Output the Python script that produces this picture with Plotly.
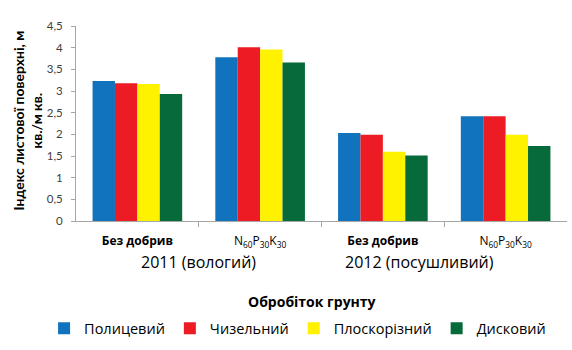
import plotly.graph_objects as go

# Leaf area index by soil tillage, fertilizer background and year
fertilizer = ["<b>Без добрив</b>", "N<sub>60</sub>P<sub>30</sub>K<sub>30</sub>",
              "<b>Без добрив</b>", "N<sub>60</sub>P<sub>30</sub>K<sub>30</sub>"]
years = ["2011 (вологий)", "2012 (посушливий)"]

polytsevyi = [3.23, 3.78, 2.03, 2.42]
chyzelnyi = [3.18, 4.01, 1.99, 2.42]
ploskorizny = [3.16, 3.96, 1.60, 1.99]
dyskovyi = [2.93, 3.66, 1.51, 1.73]

series = [
    ("Полицевий", polytsevyi, "#1172BD"),
    ("Чизельний", chyzelnyi, "#ED1C24"),
    ("Плоскорізний", ploskorizny, "#FFF200"),
    ("Дисковий", dyskovyi, "#076A3A"),
]

yticks = [0, 0.5, 1, 1.5, 2, 2.5, 3, 3.5, 4, 4.5]
yticktext = [f"{v:g}".replace(".", ",") for v in yticks]

xpos = list(range(len(fertilizer)))

fig = go.Figure()
for name, vals, color in series:
    fig.add_trace(go.Bar(x=xpos, y=vals, name=name, marker_color=color,
                         marker_line_width=0))

font = "'Open Sans', Lato, sans-serif"
lato = "Lato, 'Open Sans', sans-serif"

fig.update_layout(
    width=572, height=350,
    margin=dict(l=75.5, r=4.5, t=26, b=129, autoexpand=False),
    paper_bgcolor="white", plot_bgcolor="white",
    barmode="group", bargap=0.27, bargroupgap=0,
    font=dict(family=font, color="#000000"),
    showlegend=True,
    legend=dict(orientation="h", x=-0.065, xanchor="left",
                y=-0.55, yanchor="middle",
                font=dict(size=14.5, family=font),
                itemwidth=30, traceorder="normal"),
)

fig.update_xaxes(
    range=[-0.5, 3.5], tickmode="array", tickvals=xpos, ticktext=fertilizer,
    ticks="", showgrid=False, zeroline=False,
    showline=True, linecolor="#A6A6A6", linewidth=1,
    tickfont=dict(size=12, family=font),
    minor=dict(tickmode="array", tickvals=[0.5, 1.5, 2.5], ticks="outside",
               ticklen=5, tickcolor="#A6A6A6", showgrid=False),
    ticklabelstandoff=9,
    automargin=False,
    fixedrange=True,
)
fig.update_yaxes(
    range=[0, 4.5], tickmode="array", tickvals=yticks, ticktext=yticktext,
    ticks="outside", ticklen=4, tickcolor="#A6A6A6",
    showgrid=False, zeroline=False,
    showline=True, linecolor="#A6A6A6", linewidth=1,
    tickfont=dict(size=11.5, family=lato, color="#404040"),
    ticklabelstandoff=6,
    automargin=False,
    fixedrange=True,
)

# y axis title, two lines
fig.add_annotation(x=(27 - 75.5) / 492, y=0.513, xref="paper", yref="paper",
                   text="<b>Індекс листової поверхні, м<br>кв./м кв.</b>",
                   textangle=-90, showarrow=False, xanchor="center",
                   yanchor="middle",
                   font=dict(size=14, family=lato))
# year labels under the fertilizer labels
fig.add_annotation(x=0.5, y=-0.21, xref="x", yref="paper", text=years[0],
                   showarrow=False, font=dict(size=16, family=font),
                   yanchor="middle")
fig.add_annotation(x=2.3, y=-0.21, xref="x", yref="paper", text=years[1],
                   showarrow=False, font=dict(size=16, family=font),
                   yanchor="middle")
# x axis title
fig.add_annotation(x=(312 - 75.5) / 492, y=-0.415, xref="paper", yref="paper",
                   text="<b>Обробіток грунту</b>", showarrow=False,
                   font=dict(size=14, family=font), yanchor="middle")

fig.write_html("out.html")
